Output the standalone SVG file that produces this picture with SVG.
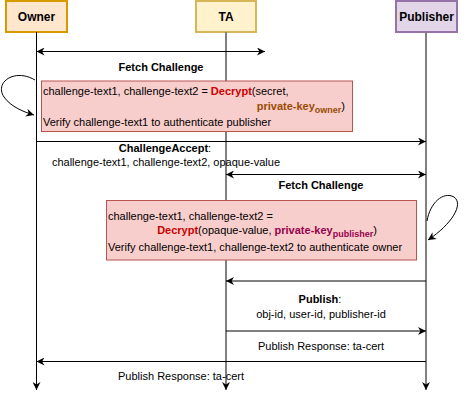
<svg xmlns="http://www.w3.org/2000/svg" width="468" height="400" viewBox="0 0 468 400">
<defs>
<marker id="arr" viewBox="0 0 10 10" refX="10" refY="5" markerWidth="8" markerHeight="8" markerUnits="userSpaceOnUse" orient="auto-start-reverse">
<path d="M0,0 L10,5 L0,10 L3,5 Z" fill="#000"/>
</marker>
</defs>
<style>
text{font-family:"Liberation Sans",Arial,sans-serif;fill:#000}
.h{font-size:12px;font-weight:bold;text-anchor:middle}
.m{font-size:11px}
.c{text-anchor:middle}
.b{font-weight:bold}
.red{fill:#CC0000;font-weight:bold}
.brn{fill:#994C00;font-weight:bold}
.pur{fill:#99004D;font-weight:bold}
.ln{fill:none;stroke:#000;stroke-width:1}
.gl{fill:none;stroke:#808080;stroke-width:2}
.note{fill:#f8cecc;stroke:#b85450;stroke-width:1}
</style>
<g id="owner">
<rect x="6" y="1" width="61" height="31" fill="#ffe6cc" stroke="#d79b00" stroke-width="2"/>
<text class="h" x="36.5" y="21">Owner</text>
</g>
<g id="ta">
<rect x="196" y="1" width="60" height="31" fill="#fff2cc" stroke="#d6b656" stroke-width="2"/>
<text class="h" x="226" y="21">TA</text>
</g>
<g id="publisher">
<rect x="396" y="1" width="61" height="31" fill="#e1d5e7" stroke="#9673a6" stroke-width="2"/>
<text class="h" x="426.5" y="21">Publisher</text>
</g>
<g id="lifelines">
<line class="ln" x1="36.5" y1="32" x2="36.5" y2="390" marker-end="url(#arr)"/>
<line class="gl" x1="226" y1="32" x2="226" y2="390" marker-end="url(#arr)"/>
<line class="gl" x1="426" y1="32" x2="426" y2="390" marker-end="url(#arr)"/>
</g>
<g id="note1">
<rect class="note" x="41.5" y="81" width="311" height="50.5"/>
<text class="m" x="43" y="94.5">challenge-text1, challenge-text2 = <tspan class="red">Decrypt</tspan>(secret,</text>
<text class="m" x="345" y="110" text-anchor="end"><tspan class="brn">private-key</tspan><tspan class="brn" font-size="9" dy="3">owner</tspan><tspan dy="-3">)</tspan></text>
<text class="m" x="43" y="126">Verify challenge-text1 to authenticate publisher</text>
</g>
<g id="note2">
<rect class="note" x="106.5" y="200.5" width="310" height="59.5"/>
<text class="m" x="108" y="219.5">challenge-text1, challenge-text2 =</text>
<text class="m" x="267" y="234" text-anchor="middle"><tspan class="red">Decrypt</tspan>(opaque-value, <tspan class="pur">private-key</tspan><tspan class="pur" font-size="9" dy="3">publisher</tspan><tspan dy="-3">)</tspan></text>
<text class="m" x="108" y="250.5">Verify challenge-text1, challenge-text2 to authenticate owner</text>
</g>
<g id="connectors">
<line class="ln" x1="36.5" y1="51.5" x2="265" y2="51.5" marker-start="url(#arr)" marker-end="url(#arr)"/>
<path class="ln" d="M35,80 C15,68 -6,82 4,97 C11,107 24,112 34,115" marker-end="url(#arr)"/>
<line class="ln" x1="36.5" y1="141.5" x2="426" y2="141.5" marker-end="url(#arr)"/>
<line class="ln" x1="226" y1="174.5" x2="426" y2="174.5" marker-start="url(#arr)" marker-end="url(#arr)"/>
<path class="ln" d="M427,221 C430,203 443,191 454,197 C464,204 452,224 428,240" marker-end="url(#arr)"/>
<line class="ln" x1="426" y1="281" x2="226" y2="281" marker-end="url(#arr)"/>
<line class="ln" x1="226" y1="331" x2="426" y2="331" marker-end="url(#arr)"/>
<line class="ln" x1="426" y1="361.5" x2="36.5" y2="361.5" marker-end="url(#arr)"/>
</g>
<g id="labels">
<text class="m c b" x="161" y="70.5">Fetch Challenge</text>
<text class="m c" x="165" y="152"><tspan class="b">ChallengeAccept</tspan>:</text>
<text class="m c" x="166" y="166">challenge-text1, challenge-text2, opaque-value</text>
<text class="m c b" x="321" y="189">Fetch Challenge</text>
<text class="m c" x="320" y="303"><tspan class="b">Publish</tspan>:</text>
<text class="m c" x="321" y="318">obj-id, user-id, publisher-id</text>
<text class="m c" x="321" y="350">Publish Response: ta-cert</text>
<text class="m c" x="181" y="380">Publish Response: ta-cert</text>
</g>
</svg>
